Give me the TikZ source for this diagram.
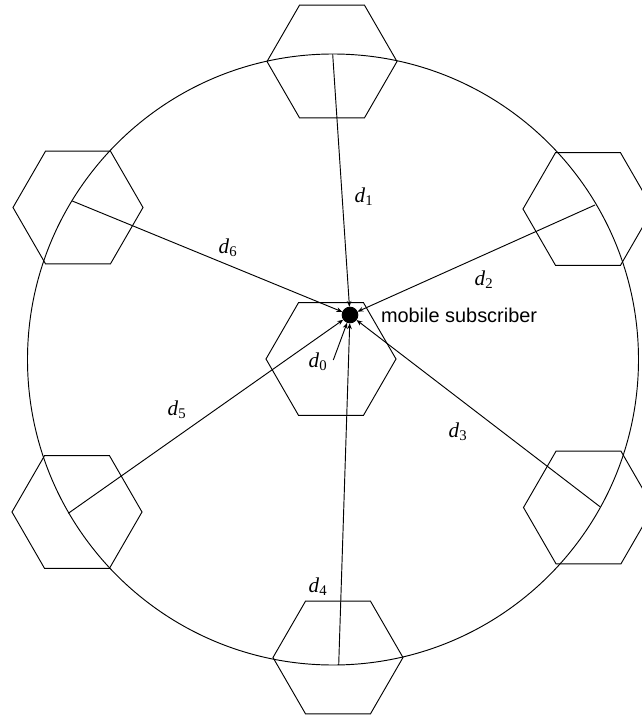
\documentclass[tikz,border=0pt]{standalone}
\usepackage{fontspec}
\setmainfont{Liberation Serif}
\setsansfont{Liberation Sans}
\usepackage{tikz}
\usetikzlibrary{positioning, arrows.meta, shapes.geometric}
\newcommand{\dlab}[1]{$\mathit{d}_{\mathrm{#1}}$}

\begin{document}
\begin{tikzpicture}[
  x=0.03cm, y=0.03cm,
  line width=0.8pt,
  cell/.style={draw, regular polygon, regular polygon sides=6, minimum size=3.9cm, inner sep=0pt, outer sep=0pt},
  station/.style={draw, circle, fill=black, minimum size=0.47cm, inner sep=0pt},
  arrow/.style={-{Stealth[length=5pt, width=4pt]}},
  dist/.style={font=\fontsize{18}{20}\selectfont},
]
  \clip (-333,-357.5) rectangle (309,359.5);

  % Cluster boundary
  \draw (0,0) circle (305.5);

  % Cells
  \node (cell0) [cell] at (-2,0.5) {};
  \node (cell1) [cell] at (-1,298) {};
  \node (cell2) [cell] at (255,150.5) {};
  \node (cell3) [cell] at (255.5,-148) {};
  \node (cell4) [cell] at (5,-298) {};
  \node (cell5) [cell] at (-256,-152.5) {};
  \node (cell6) [cell] at (-255,152) {};

  % Base stations
  \coordinate (bs0) at (0.3,-0.5);
  \coordinate (bs1) at (-0.3,305.2);
  \coordinate (bs2) at (262,154.5);
  \coordinate (bs3) at (267,-147.2);
  \coordinate (bs4) at (5.7,-305.5);
  \coordinate (bs5) at (-264.7,-153.8);
  \coordinate (bs6) at (-260.7,158.5);

  % Mobile subscriber
  \node (ms) [station] at (17,44.5) {};
  \node (mslabel) [right=0.55cm of ms, font=\sffamily\fontsize{17}{20}\selectfont] {mobile subscriber};

  % Distances to the subscriber
  \foreach \i in {0,...,6} {
    \draw [arrow] (bs\i) -- (ms);
  }

  \node (lbl0) [dist] at (-15,-2.5) {\dlab{0}};
  \node (lbl1) [dist] at (31,163) {\dlab{1}};
  \node (lbl2) [dist] at (151,79.5) {\dlab{2}};
  \node (lbl3) [dist] at (125,-72.5) {\dlab{3}};
  \node (lbl4) [dist] at (-15,-227) {\dlab{4}};
  \node (lbl5) [dist] at (-156,-50.5) {\dlab{5}};
  \node (lbl6) [dist] at (-105,111.5) {\dlab{6}};

\end{tikzpicture}
\end{document}
